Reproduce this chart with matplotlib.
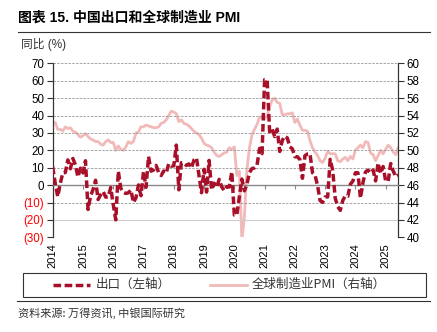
import pandas as pd
import matplotlib.pyplot as plt
from matplotlib.lines import Line2D
from matplotlib.patches import Rectangle

plt.rcParams['font.family'] = ['Liberation Sans', 'Noto Sans CJK SC', 'DejaVu Sans']

# China exports yoy (%) and global manufacturing PMI, Jan 2014 - Jun 2025
exports = [
    10.6, 1.0, -6.6, 0.9, 7.0, 7.2, 14.5, 9.4, 15.3, 11.6, 4.7, 9.7,
    7.0, 14.0, -14.0, -6.4, -2.5, 2.8, -8.3, -5.5, -3.7, -6.9, -6.8, -1.4,
    -11.2, -20.0, 8.0, -1.8, -4.1, -4.8, -4.4, -2.8, -10.0, -7.3, 0.1, -6.1,
    7.9, -1.3, 16.4, 8.0, 8.7, 11.3, 7.2, 5.5, 8.1, 6.9, 12.3, 10.9,
    11.1, 23.0, -2.7, 12.9, 12.6, 11.3, 12.2, 9.8, 14.5, 15.6, 5.4, -4.4,
    9.1, -4.0, 14.2, -2.7, 1.1, -1.3, 3.3, -1.0, -3.2, -0.9, -1.1, 7.6,
    -17.2, -17.2, -6.6, 3.5, -3.3, 0.5, 7.2, 9.5, 9.9, 11.4, 21.1, 18.1,
    60.6, 60.6, 30.6, 32.3, 27.9, 32.2, 19.3, 25.6, 28.1, 27.1, 22.0, 20.9,
    16.3, 16.3, 14.7, 3.9, 16.9, 17.9, 18.0, 7.1, 5.7, -0.3, -8.9, -9.9,
    -6.8, -6.8, 14.8, 8.5, -7.5, -12.4, -14.5, -8.8, -6.2, -6.4, 0.5, 2.3,
    7.1, 7.1, -7.5, 1.5, 7.6, 8.6, 7.0, 8.7, 2.4, 12.7, 6.7, 10.7,
    2.3, 2.3, 12.4, 8.1, 4.8, 5.8,
]
pmi = [
    53.0, 53.2, 52.4, 52.4, 52.2, 52.7, 52.5, 52.6, 52.2, 52.1, 51.8, 51.5,
    51.7, 51.9, 51.6, 51.3, 51.2, 51.0, 51.0, 50.7, 50.6, 51.0, 51.2, 50.9,
    50.9, 50.0, 50.5, 50.1, 50.0, 50.4, 51.0, 50.8, 51.0, 52.0, 52.1, 52.7,
    52.7, 52.9, 52.8, 52.7, 52.6, 52.6, 52.7, 53.1, 53.2, 53.5, 54.0, 54.5,
    54.4, 54.2, 53.3, 53.5, 53.1, 53.0, 52.8, 52.5, 52.2, 52.0, 51.8, 51.4,
    50.8, 50.6, 50.5, 50.3, 49.8, 49.4, 49.3, 49.5, 49.7, 49.8, 50.3, 50.1,
    50.4, 47.1, 47.6, 39.6, 42.4, 47.8, 50.3, 51.8, 52.4, 53.0, 53.8, 53.8,
    53.6, 53.9, 55.0, 55.8, 56.0, 55.5, 55.4, 54.1, 54.1, 54.2, 54.2, 54.3,
    53.2, 53.6, 52.9, 52.3, 52.3, 52.2, 51.1, 50.3, 49.8, 49.4, 48.8, 48.6,
    49.1, 49.9, 49.6, 49.6, 49.6, 48.8, 48.7, 49.0, 49.2, 48.8, 49.3, 49.0,
    50.0, 50.3, 50.6, 50.3, 51.0, 50.9, 49.7, 49.5, 48.8, 49.4, 50.0, 49.6,
    50.1, 50.6, 50.3, 49.8, 49.5, 50.3,
]
years = list(range(2014, 2026))
left_ticks = list(range(-30, 71, 10))
right_ticks = list(range(40, 61, 2))

months = list(range(len(exports)))
year_pos = [(y - 2014) * 12 for y in years]

red = '#A8102A'
pink = '#F2B9B9'

fig = plt.figure(figsize=(4.37, 3.32), dpi=100)
ax = fig.add_axes([0.1206, 0.2852, 0.7908, 0.5241])
ax2 = ax.twinx()

ax2.plot(months, pmi, color=pink, lw=2.0, zorder=2)
ax.plot(months, exports, color=red, lw=2.5, dashes=(2.2, 1.0), zorder=3)
ax.set_zorder(ax2.get_zorder() + 1)
ax.patch.set_visible(False)

ax.set_xlim(0, 137)
ax.set_ylim(-30, 70)
ax2.set_ylim(40, 60)

# gridlines
for v in left_ticks:
    if v in (0, -30):
        continue
    if v == -20:
        ax.axhline(v, color='#cccccc', lw=0.8, zorder=0)
    else:
        ax.axhline(v, color='#999999', lw=0.6, ls=(0, (3, 1.5)), zorder=0)

ax.set_yticks(left_ticks)
ax.set_yticklabels([str(v) if v >= 0 else '(%d)' % -v for v in left_ticks])
for lab, v in zip(ax.get_yticklabels(), left_ticks):
    if v < 0:
        lab.set_color('#FF0000')
ax2.set_yticks(right_ticks)

# x axis drawn at zero, year labels at the bottom
ax.spines['bottom'].set_position(('data', 0))
ax.spines['bottom'].set_color('#888888')
ax.spines['bottom'].set_linewidth(1.0)
ax.set_xticks(year_pos)
ax.tick_params(axis='x', length=3, color='#888888', labelbottom=False)
sec = ax.secondary_xaxis(0)
sec.set_xticks(year_pos)
sec.set_xticklabels([str(y) for y in years], rotation=90)
sec.tick_params(length=0, pad=4, labelsize=8)
sec.spines['bottom'].set_visible(False)

for a in (ax, ax2):
    a.spines['top'].set_visible(False)
    a.spines['left'].set_color('#333333')
    a.spines['right'].set_color('#333333')
ax2.spines['bottom'].set_visible(False)
ax.tick_params(axis='y', labelsize=8.3, length=4, width=0.8, color='#333333', pad=2)
ax2.tick_params(axis='y', labelsize=8.3, length=4, width=0.8, color='#333333', pad=2)

# title and header line
fig.text(18 / 437, 1 - 18 / 332, '图表 15. 中国出口和全球制造业 PMI', fontsize=10,
         fontweight='bold', va='center', ha='left',
         family=['Liberation Sans', 'Noto Sans CJK SC'])
fig.add_artist(Line2D([18 / 437, 430 / 437], [1 - 31.7 / 332] * 2, color='#333333', lw=0.8))
fig.text(21 / 437, 1 - 44 / 332, '同比 (%)', fontsize=8.5, color='#333333', va='center')

# legend box
fig.add_artist(Rectangle((22.7 / 437, 1 - 296.7 / 332), (426 - 22.7) / 437, 24 / 332,
                         transform=fig.transFigure, fill=False, ec='#333333', lw=0.8))
ly = 1 - 284.7 / 332
fig.add_artist(Line2D([53 / 437, 90 / 437], [ly, ly], color=red, lw=2.5, dashes=(2.2, 1.0)))
fig.text(96 / 437, ly, '出口（左轴）', fontsize=9, va='center', color='#333333',
         family=['Noto Sans CJK SC'])
fig.add_artist(Line2D([210 / 437, 247 / 437], [ly, ly], color=pink, lw=2.0))
fig.text(252 / 437, ly, '全球制造业PMI（右轴）', fontsize=9, va='center', color='#333333',
         family=['Noto Sans CJK SC'])

# footer
fig.add_artist(Line2D([17 / 437, 430 / 437], [1 - 300.7 / 332] * 2, color='#333333', lw=0.8))
fig.text(18 / 437, 1 - 313 / 332, '资料来源: 万得资讯, 中银国际研究', fontsize=8,
         color='#333333', va='center', style='italic', family=['Noto Sans CJK SC'])

fig.savefig('out.png', dpi=100)
